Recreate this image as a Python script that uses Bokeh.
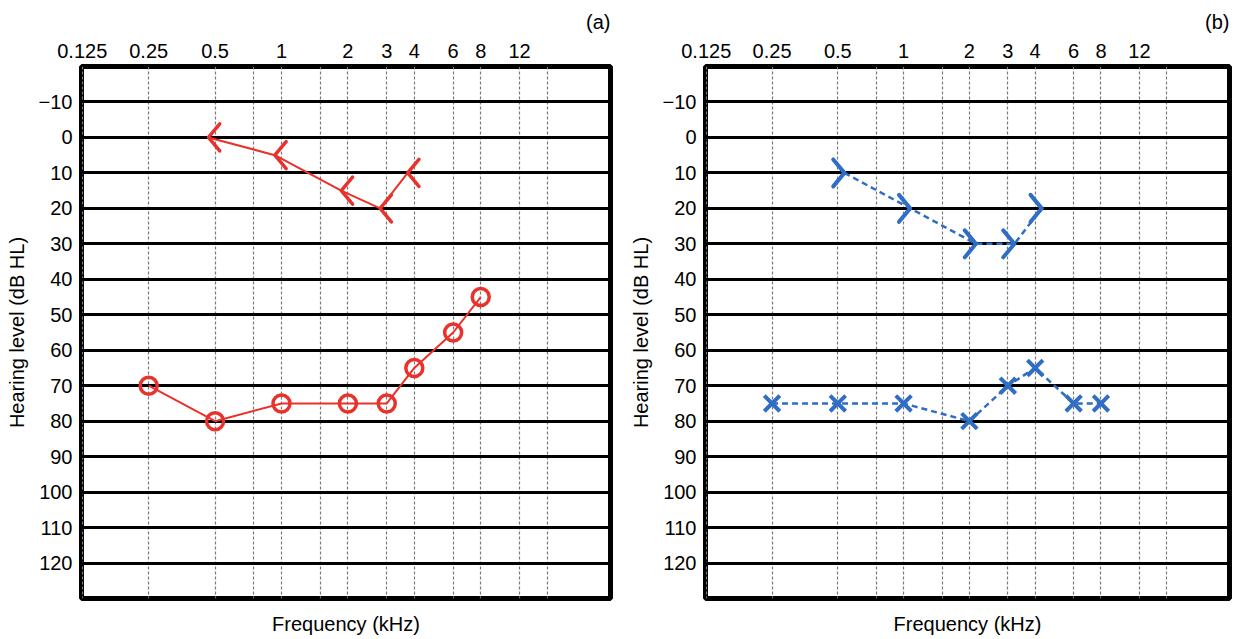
import numpy as np
from bokeh.plotting import figure
from bokeh.layouts import row
from bokeh.models import Range1d, FixedTicker, CustomJSTickFormatter, LogAxis
from bokeh.embed import file_html
from bokeh.resources import INLINE

# ---------------- data ----------------
x_tick_freqs = [0.125, 0.25, 0.5, 1, 2, 3, 4, 6, 8, 12]
x_tick_labels = ["0.125", "0.25", "0.5", "1", "2", "3", "4", "6", "8", "12"]
x_grid_freqs = [0.125, 0.25, 0.5, 0.75, 1, 1.5, 2, 3, 4, 6, 8, 12, 16]
y_ticks = [-10, 0, 10, 20, 30, 40, 50, 60, 70, 80, 90, 100, 110, 120]
y_tick_labels = ["\u221210", "0", "10", "20", "30", "40", "50", "60", "70", "80",
                 "90", "100", "110", "120"]

# panel (a): red, bone "<" and air "o"
a_bone_freq = [0.5, 1, 2, 3, 4]
a_bone_db = [0, 5, 15, 20, 10]
a_air_freq = [0.25, 0.5, 1, 2, 3, 4, 6, 8]
a_air_db = [70, 80, 75, 75, 75, 65, 55, 45]

# panel (b): blue, bone ">" and air "x"
b_bone_freq = [0.5, 1, 2, 3, 4]
b_bone_db = [10, 20, 30, 30, 20]
b_air_freq = [0.25, 0.5, 1, 2, 3, 4, 6, 8]
b_air_db = [75, 75, 75, 80, 70, 65, 75, 75]

FONT = "Liberation Sans"
FS = "20px"
RED = "#e8322b"
BLUE = "#2f6ec4"


def make_panel(tag, width, left, right):
    p = figure(width=width, height=638, x_axis_type="log", x_axis_location="above",
               x_range=Range1d(0.124, 31), y_range=Range1d(130, -20),
               output_backend="svg", toolbar_location=None,
               min_border_left=left, min_border_right=right,
               min_border_top=66, min_border_bottom=40)
    p.background_fill_color = "white"
    p.border_fill_color = "white"
    p.outline_line_color = "black"
    p.outline_line_width = 5
    p.title.text = tag
    p.title.align = "right"
    p.title.text_font = FONT
    p.title.text_font_size = FS
    p.title.text_font_style = "normal"
    p.title.text_color = "black"
    p.title.standoff = 16

    xa = p.xaxis[0]
    xa.ticker = FixedTicker(ticks=x_tick_freqs)
    xa.formatter = CustomJSTickFormatter(
        args=dict(vals=x_tick_freqs, labels=x_tick_labels),
        code="const i = vals.indexOf(tick); return i >= 0 ? labels[i] : '';")
    ya = p.yaxis[0]
    ya.ticker = FixedTicker(ticks=y_ticks)
    ya.formatter = CustomJSTickFormatter(
        args=dict(vals=y_ticks, labels=y_tick_labels),
        code="const i = vals.indexOf(tick); return i >= 0 ? labels[i] : '';")
    ya.axis_label = "Hearing level (dB HL)"
    ya.axis_label_standoff = 8

    xb = LogAxis(ticker=FixedTicker(ticks=[]), axis_label="Frequency (kHz)")
    xb.axis_label_standoff = 14
    p.add_layout(xb, "below")

    for ax in (xa, ya, xb):
        ax.axis_line_color = None
        ax.major_tick_line_color = None
        ax.minor_tick_line_color = None
        ax.major_tick_out = 0
        ax.major_tick_in = 0
        ax.major_label_text_font = FONT
        ax.major_label_text_font_size = FS
        ax.major_label_text_color = "black"
        ax.axis_label_text_font_style = "normal"
        ax.axis_label_text_font = FONT
        ax.axis_label_text_font_size = FS
        ax.axis_label_text_color = "black"
    xa.major_label_standoff = 9
    ya.major_label_standoff = 9
    xb.major_label_standoff = 0

    p.xgrid.ticker = FixedTicker(ticks=x_grid_freqs)
    p.xgrid.grid_line_color = "#7a7a7a"
    p.xgrid.grid_line_width = 1.2
    p.xgrid.grid_line_dash = "3 2"
    p.ygrid.ticker = FixedTicker(ticks=y_ticks)
    p.ygrid.grid_line_color = "black"
    p.ygrid.grid_line_width = 3
    return p


def bracket(freqs, dbs, direction):
    f = np.array(freqs, dtype=float)
    d = np.array(dbs, dtype=float)
    apex = f * 2 ** (0.1 * direction)
    tips = f * 2 ** (-0.07 * direction)
    xs = [[t, a, t] for t, a in zip(tips, apex)]
    ys = [[v - 3.8, v, v + 3.8] for v in d]
    return apex, d, xs, ys


# ---- panel (a)
pa = make_panel("(a)", 625, 81, 15)
ax_, ay_, bxs, bys = bracket(a_bone_freq, a_bone_db, -1)
pa.line(ax_, ay_, line_color=RED, line_width=2)
pa.multi_line(bxs, bys, line_color=RED, line_width=3.5, line_cap="round", line_join="round")
pa.line(a_air_freq, a_air_db, line_color=RED, line_width=2)
pa.scatter(a_air_freq, a_air_db, marker="circle", size=17, fill_color=None,
           line_color=RED, line_width=3.5)

# ---- panel (b)
pb = make_panel("(b)", 610, 80, 6)
bx_, by_, bxs2, bys2 = bracket(b_bone_freq, b_bone_db, 1)
pb.line(bx_, by_, line_color=BLUE, line_width=2.5, line_dash="6 4")
pb.multi_line(bxs2, bys2, line_color=BLUE, line_width=4, line_cap="round", line_join="round")
pb.line(b_air_freq, b_air_db, line_color=BLUE, line_width=2.5, line_dash="6 4")
pb.scatter(b_air_freq, b_air_db, marker="x", size=22, line_color=BLUE, line_width=4)

layout = row(pa, pb)
open("out.html", "w").write(file_html(layout, INLINE))
